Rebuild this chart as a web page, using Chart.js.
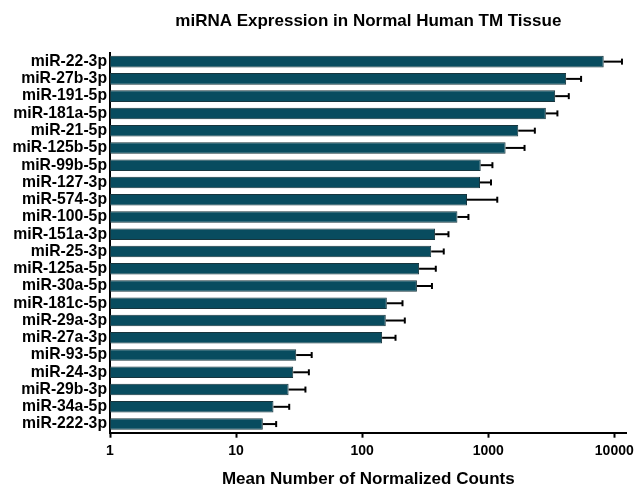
<!DOCTYPE html>
<html>
<head>
<meta charset="utf-8">
<script src="https://cdn.jsdelivr.net/npm/chart.js@4/dist/chart.umd.min.js"></script>
<style>
  html, body { margin: 0; padding: 0; background: #ffffff; }
  #wrap { width: 639px; height: 487px; position: relative; }
</style>
</head>
<body>
<div id="wrap"><canvas id="chart"></canvas></div>
<script>
// miRNA names, most to least abundant
const mirnas = [
  'miR-22-3p', 'miR-27b-3p', 'miR-191-5p', 'miR-181a-5p', 'miR-21-5p',
  'miR-125b-5p', 'miR-99b-5p', 'miR-127-3p', 'miR-574-3p', 'miR-100-5p',
  'miR-151a-3p', 'miR-25-3p', 'miR-125a-5p', 'miR-30a-5p', 'miR-181c-5p',
  'miR-29a-3p', 'miR-27a-3p', 'miR-93-5p', 'miR-24-3p', 'miR-29b-3p',
  'miR-34a-5p', 'miR-222-3p'
];

// Mean normalized counts
const meanCounts = [
  8245, 4150, 3396, 2866, 1731,
  1374, 872, 861, 679, 570,
  379, 353, 283, 272, 157,
  154, 144, 30.0, 28.4, 26.1,
  19.8, 16.3
];

// Standard deviation (upper error whisker)
const sdCounts = [
  3265, 1305, 961, 673, 613,
  568, 208, 191, 501, 127,
  105, 91, 101, 86, 52,
  64, 40, 9.8, 9.4, 9.4,
  6.6, 4.5
];

// Decade ticks on the count axis
const countTicks = [1, 10, 100, 1000, 10000];

const FONT = '"Liberation Sans", Arial, Helvetica, sans-serif';

// Positive-side error whiskers with end caps
const errorBars = {
  id: 'errorBars',
  afterDatasetsDraw(chart) {
    const { ctx } = chart;
    const meta = chart.getDatasetMeta(0);
    const xs = chart.scales.x;
    ctx.save();
    ctx.strokeStyle = '#000000';
    ctx.lineWidth = 2;
    meta.data.forEach((bar, i) => {
      const x0 = xs.getPixelForValue(meanCounts[i]);
      const x1 = xs.getPixelForValue(meanCounts[i] + sdCounts[i]);
      const y = bar.y;
      ctx.beginPath();
      ctx.moveTo(x0, y);
      ctx.lineTo(x1, y);
      ctx.stroke();
      ctx.beginPath();
      ctx.moveTo(x1, y - 3);
      ctx.lineTo(x1, y + 3);
      ctx.stroke();
    });
    ctx.restore();
  }
};

// Chart heading, centred over the plot area
const plotTitle = {
  id: 'plotTitle',
  afterDraw(chart) {
    const { ctx, chartArea } = chart;
    ctx.save();
    ctx.fillStyle = '#000000';
    ctx.font = 'bold 17px ' + FONT;
    ctx.textAlign = 'center';
    ctx.textBaseline = 'middle';
    ctx.fillText('miRNA Expression in Normal Human TM Tissue',
      (chartArea.left + chartArea.right) / 2, 21.5);
    ctx.restore();
  }
};

new Chart(document.getElementById('chart'), {
  type: 'bar',
  data: {
    labels: mirnas,
    datasets: [{
      data: meanCounts,
      backgroundColor: '#084c5f',
      borderColor: '#17353d',
      borderWidth: 1,
      borderSkipped: false,
      categoryPercentage: 1,
      barPercentage: 0.67
    }]
  },
  options: {
    indexAxis: 'y',
    responsive: true,
    maintainAspectRatio: false,
    animation: false,
    layout: { padding: { top: 53, right: 11, bottom: 0, left: 0 } },
    plugins: {
      legend: { display: false },
      tooltip: { enabled: false },
      title: { display: false }
    },
    scales: {
      x: {
        type: 'logarithmic',
        min: 1,
        max: 12530,
        afterBuildTicks(scale) {
          scale.ticks = countTicks.map(v => ({ value: v, major: true }));
        },
        afterFit(scale) { scale.height = 54.3; },
        ticks: {
          color: '#000000',
          font: { family: FONT, size: 14, weight: 'bold' },
          padding: 5,
          maxRotation: 0,
          autoSkip: false,
          callback: v => String(v)
        },
        grid: {
          display: true,
          drawOnChartArea: false,
          drawTicks: true,
          tickLength: 5,
          tickWidth: 2,
          tickColor: '#000000'
        },
        border: { display: true, color: '#000000', width: 2 },
        title: {
          display: true,
          text: 'Mean Number of Normalized Counts',
          color: '#000000',
          font: { family: FONT, size: 17, weight: 'bold', lineHeight: 1 },
          padding: { top: 0, bottom: -1 }
        }
      },
      y: {
        afterFit(scale) { scale.width = 110; },
        ticks: {
          color: '#000000',
          font: { family: FONT, size: 15.75, weight: 'bold' },
          padding: 3,
          autoSkip: false
        },
        grid: { display: true, drawOnChartArea: false, drawTicks: false },
        border: { display: true, color: '#000000', width: 2 }
      }
    }
  },
  plugins: [errorBars, plotTitle]
});
</script>
</body>
</html>
